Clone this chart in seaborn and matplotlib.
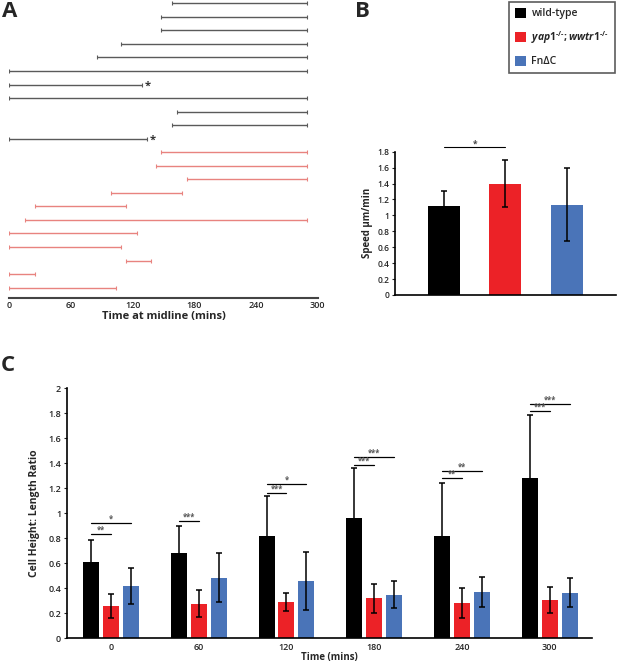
import numpy as np
import pandas as pd
import seaborn as sns
import matplotlib.pyplot as plt
from matplotlib.patches import Patch

# Panel A: time at midline per cell (mins)
black_start = [158, 148, 148, 109, 85, 0, 0, 0, 163, 158, 0]
black_end = [290, 290, 290, 290, 290, 290, 129, 290, 290, 290, 134]
black_star = [False, False, False, False, False, False, True, False, False, False, True]
red_start = [148, 143, 173, 99, 25, 15, 0, 0, 114, 0, 0]
red_end = [290, 290, 290, 168, 114, 290, 124, 109, 138, 25, 104]
a_ticks = [0, 60, 120, 180, 240, 300]

# Panel B: speed
genotypes = ['wild-type', 'yap1', 'FnDC']
speed_mean = [1.12, 1.40, 1.135]
speed_sd = [0.19, 0.30, 0.455]
b_ticks = [0, 0.2, 0.4, 0.6, 0.8, 1, 1.2, 1.4, 1.6, 1.8]

# Panel C: cell height:length ratio
times = [0, 60, 120, 180, 240, 300]
wt_mean = [0.61, 0.68, 0.82, 0.965, 0.82, 1.28]
wt_sd = [0.18, 0.22, 0.32, 0.395, 0.42, 0.51]
yap_mean = [0.256, 0.277, 0.29, 0.32, 0.285, 0.306]
yap_sd = [0.095, 0.11, 0.075, 0.118, 0.12, 0.103]
fn_mean = [0.42, 0.485, 0.46, 0.35, 0.37, 0.365]
fn_sd = [0.143, 0.195, 0.233, 0.11, 0.12, 0.118]
c_ticks = [0, 0.2, 0.4, 0.6, 0.8, 1, 1.2, 1.4, 1.6, 1.8, 2]
sig_short_y = [0.835, 0.94, 1.16, 1.385, 1.28, 1.82]
sig_short_lab = ['**', '***', '***', '***', '**', '***']
sig_long_y = [0.92, None, 1.235, 1.45, 1.34, 1.875]
sig_long_lab = ['*', None, '*', '***', '**', '***']

colors = ['#000000', '#ec2227', '#4a74b8']
labels = ['wild-type', r'$\mathit{yap1}^{\text{-/-}}\mathit{;wwtr1}^{\text{-/-}}$', 'FnΔC']

sns.set_style('white')
plt.rcParams['font.family'] = ['Open Sans', 'DejaVu Sans']
plt.rcParams['font.weight'] = 'bold'
plt.rcParams['mathtext.fontset'] = 'custom'
plt.rcParams['mathtext.it'] = 'Open Sans:italic:bold'
plt.rcParams['mathtext.rm'] = 'Open Sans:bold'

fig = plt.figure(figsize=(6.17, 6.65), dpi=100)

# ---- A
axA = fig.add_axes([0.0151, 0.5519, 0.4998, 0.4481])
n_black = len(black_start)
for i in range(n_black):
    axA.hlines(i, black_start[i], black_end[i], color='#5a5a5a', lw=1.0)
    axA.plot([black_start[i], black_end[i]], [i, i], ls='none', marker='|', ms=3, mew=0.8, color='#5a5a5a')
    if black_star[i]:
        axA.text(black_end[i] + 3, i + 0.15, '*', fontsize=8, color='#333333', va='center', ha='left')
for j in range(len(red_start)):
    y = n_black + j
    axA.hlines(y, red_start[j], red_end[j], color='#e8837f', lw=1.0)
    axA.plot([red_start[j], red_end[j]], [y, y], ls='none', marker='|', ms=3, mew=0.8, color='#e8837f')
axA.set_xlim(0, 300)
axA.set_ylim(21.765, -0.244)
axA.set_yticks([])
axA.set_xticks(a_ticks)
axA.set_xticklabels([str(t) for t in a_ticks], fontsize=6.5, fontweight='semibold')
axA.tick_params(axis='x', direction='in', length=3, width=1, color='#444444', pad=2)
for s in ['top', 'right', 'left']:
    axA.spines[s].set_visible(False)
axA.spines['bottom'].set_color('#444444')
axA.spines['bottom'].set_linewidth(1.5)
axA.set_xlabel('Time at midline (mins)', fontsize=8, fontweight='bold', labelpad=1)

# ---- B
axB = fig.add_axes([0.6402, 0.5564, 0.3581, 0.2155])
sns.barplot(x=genotypes, y=speed_mean, hue=genotypes, palette=colors, width=0.52,
            saturation=1, legend=False, ax=axB, linewidth=0)
axB.errorbar(x=[0, 1, 2], y=speed_mean, yerr=speed_sd, fmt='none', ecolor='black',
             elinewidth=1.1, capsize=2.5, capthick=1.1)
axB.set_xlim(-0.797, 2.797)
axB.set_ylim(0, 1.8)
axB.set_xticks([])
axB.set_yticks(b_ticks)
axB.set_yticklabels([f'{t:g}' for t in b_ticks], fontsize=6, fontweight='semibold')
axB.tick_params(axis='y', direction='out', length=2, width=0.8, left=True, pad=2)
axB.set_ylabel('Speed μm/min', fontsize=7, fontweight='bold', labelpad=3)
for s in ['top', 'right']:
    axB.spines[s].set_visible(False)
for s in ['left', 'bottom']:
    axB.spines[s].set_color('black')
    axB.spines[s].set_linewidth(1.2)
axB.plot([0, 1], [1.86, 1.86], color='black', lw=0.8, clip_on=False)
axB.text(0.5, 1.865, '*', fontsize=6, color='#444444', ha='center', va='baseline')

# ---- C
df_c = pd.DataFrame({
    'time': times * 3,
    'ratio': wt_mean + yap_mean + fn_mean,
    'genotype': ['wild-type'] * 6 + ['yap1'] * 6 + ['FnDC'] * 6,
})
axC = fig.add_axes([0.1081, 0.0401, 0.8509, 0.3759])
sns.barplot(data=df_c, x='time', y='ratio', hue='genotype', palette=colors, width=0.68,
            gap=0.2, saturation=1, errorbar=None, legend=False, ax=axC, linewidth=0)
sds = [wt_sd, yap_sd, fn_sd]
bar_conts = list(axC.containers)
centers = []
for k, cont in enumerate(bar_conts):
    xs = [b.get_x() + b.get_width() / 2 for b in cont]
    hs = [b.get_height() for b in cont]
    centers.append(xs)
    axC.errorbar(x=xs, y=hs, yerr=sds[k], fmt='none', ecolor='black',
                 elinewidth=1.1, capsize=2.5, capthick=1.1)
for g in range(len(times)):
    x0, x1, x2 = centers[0][g], centers[1][g], centers[2][g]
    axC.plot([x0, x1], [sig_short_y[g]] * 2, color='black', lw=0.9)
    axC.text((x0 + x1) / 2, sig_short_y[g] + 0.01, sig_short_lab[g], fontsize=5.5,
             color='#555555', ha='center', va='baseline')
    if sig_long_y[g] is not None:
        axC.plot([x0, x2], [sig_long_y[g]] * 2, color='black', lw=0.9)
        axC.text((x0 + x2) / 2, sig_long_y[g] + 0.01, sig_long_lab[g], fontsize=5.5,
                 color='#555555', ha='center', va='baseline')
axC.set_xlim(-0.503, 5.477)
axC.set_ylim(0, 2)
axC.set_yticks(c_ticks)
axC.set_yticklabels([f'{t:g}' for t in c_ticks], fontsize=6.5, fontweight='semibold')
axC.set_xticks(range(len(times)))
axC.set_xticklabels([str(t) for t in times], fontsize=6.5, fontweight='semibold')
axC.tick_params(axis='y', direction='out', length=2, width=0.8, left=True, pad=2)
axC.tick_params(axis='x', length=0, pad=3)
axC.set_xlabel('Time (mins)', fontsize=7, fontweight='bold', labelpad=0)
axC.set_ylabel('Cell Height: Length Ratio', fontsize=7.5, fontweight='bold', labelpad=6)
for s in ['top', 'right']:
    axC.spines[s].set_visible(False)
for s in ['left', 'bottom']:
    axC.spines[s].set_color('black')
    axC.spines[s].set_linewidth(1.2)

# legend
handles = [Patch(facecolor=c, edgecolor='none') for c in colors]
leg = fig.legend(handles, labels, loc='upper left', bbox_to_anchor=(509 / 617, 1 - 2 / 665),
                 frameon=True, fancybox=False, edgecolor='#333333', fontsize=7.5,
                 handlelength=1.1, handleheight=1.1, handletextpad=0.5,
                 labelspacing=0.95, borderpad=0.55, borderaxespad=0)
leg.get_frame().set_linewidth(1.2)
for t in leg.get_texts():
    t.set_fontweight('semibold')

fig.text(2 / 617, 1 - 1 / 665, 'A', fontsize=16, fontweight='bold', va='top', ha='left')
fig.text(355 / 617, 1 - 1 / 665, 'B', fontsize=16, fontweight='bold', va='top', ha='left')
fig.text(1 / 617, 1 - 355 / 665, 'C', fontsize=16, fontweight='bold', va='top', ha='left')

fig.savefig('out.png', dpi=100)
